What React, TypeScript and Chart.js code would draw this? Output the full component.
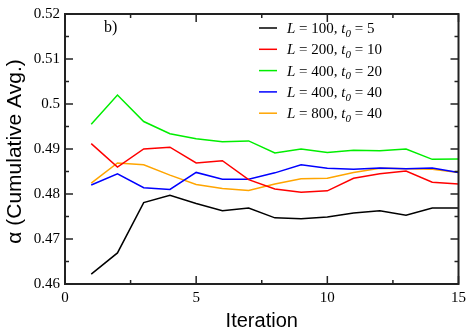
import React, { useEffect, useRef } from "react";
import { Chart, registerables } from "chart.js";

Chart.register(...registerables);

const iterations = [1, 2, 3, 4, 5, 6, 7, 8, 9, 10, 11, 12, 13, 14, 15];
const black100 = [0.4622, 0.4669, 0.4781, 0.4797, 0.4779, 0.4763, 0.4769, 0.4747, 0.4745, 0.4749, 0.4758, 0.4763, 0.4753, 0.4769, 0.4769];
const red200 = [0.4912, 0.4860, 0.4900, 0.4904, 0.4869, 0.4874, 0.4832, 0.4811, 0.4804, 0.4807, 0.4835, 0.4845, 0.4851, 0.4826, 0.4822];
const green400 = [0.4955, 0.5020, 0.4961, 0.4934, 0.4923, 0.4916, 0.4918, 0.4891, 0.4900, 0.4892, 0.4897, 0.4896, 0.4900, 0.4877, 0.4878];
const blue400 = [0.4820, 0.4845, 0.4814, 0.4810, 0.4848, 0.4833, 0.4833, 0.4847, 0.4865, 0.4857, 0.4855, 0.4858, 0.4856, 0.4858, 0.4848];
const orange800 = [0.4824, 0.4869, 0.4865, 0.4842, 0.4821, 0.4812, 0.4808, 0.4822, 0.4834, 0.4835, 0.4848, 0.4857, 0.4856, 0.4855, 0.4848];

const seriesL = ["100", "200", "400", "400", "800"];
const seriesT0 = ["5", "10", "20", "40", "40"];
const seriesColors = ["#000000", "#ff0000", "#00ee00", "#0000ff", "#ffa500"];
const seriesValues = [black100, red200, green400, blue400, orange800];

const xTicksMajor = [0, 5, 10, 15];
const xTicksMinor = [2.5, 7.5, 12.5];
const yTicksMajor = [0.46, 0.47, 0.48, 0.49, 0.5, 0.51, 0.52];
const yTicksMinor = [0.465, 0.475, 0.485, 0.495, 0.505, 0.515];

const xTitle = "Iteration";
const yTitle = "α (Cumulative Avg.)";

const SERIF = "'Liberation Serif', 'Times New Roman', serif";
const SANS = "'Liberation Sans', Arial, sans-serif";

const framePlugin = {
  id: "frameAndLegend",
  afterDraw(chart: any) {
    const ctx = chart.ctx;
    const { left, right, top, bottom } = chart.chartArea;
    const xs = chart.scales.x;
    const ys = chart.scales.y;
    ctx.save();
    ctx.strokeStyle = "#222";
    ctx.lineWidth = 2;
    ctx.strokeRect(left, top, right - left, bottom - top);
    ctx.lineWidth = 1.5;
    const tick = (x1: number, y1: number, x2: number, y2: number) => {
      ctx.beginPath();
      ctx.moveTo(x1, y1);
      ctx.lineTo(x2, y2);
      ctx.stroke();
    };
    xTicksMajor.forEach((v) => {
      const p = xs.getPixelForValue(v);
      tick(p, bottom, p, bottom - 8);
      tick(p, top, p, top + 8);
    });
    xTicksMinor.forEach((v) => {
      const p = xs.getPixelForValue(v);
      tick(p, bottom, p, bottom - 4);
      tick(p, top, p, top + 4);
    });
    yTicksMajor.forEach((v) => {
      const p = ys.getPixelForValue(v);
      tick(left, p, left + 8, p);
      tick(right, p, right - 8, p);
    });
    yTicksMinor.forEach((v) => {
      const p = ys.getPixelForValue(v);
      tick(left, p, left + 4, p);
      tick(right, p, right - 4, p);
    });

    // axis titles
    ctx.fillStyle = "#000";
    ctx.font = `20px ${SANS}`;
    ctx.textAlign = "center";
    ctx.textBaseline = "alphabetic";
    ctx.fillText(xTitle, (left + right) / 2, 327);
    ctx.save();
    ctx.translate(20.5, 151.5);
    ctx.rotate(-Math.PI / 2);
    ctx.font = `21px ${SANS}`;
    ctx.fillText(yTitle, 0, 0);
    ctx.restore();

    // panel label
    ctx.fillStyle = "#000";
    ctx.font = `16px ${SERIF}`;
    ctx.textBaseline = "alphabetic";
    ctx.textAlign = "left";
    ctx.fillText("b)", 104, 32);

    // legend
    const lineX1 = 259;
    const lineX2 = 277;
    const textX = 287;
    const rowY0 = 28;
    const rowDy = 21.3;
    seriesL.forEach((L, i) => {
      const y = rowY0 + i * rowDy;
      ctx.strokeStyle = seriesColors[i];
      ctx.lineWidth = 1.5;
      tick(lineX1, y, lineX2, y);
      ctx.fillStyle = "#000";
      ctx.textBaseline = "middle";
      let x = textX;
      const base = y + 1;
      ctx.font = `italic 15px ${SERIF}`;
      ctx.fillText("L", x, base);
      x += ctx.measureText("L").width;
      ctx.font = `15px ${SERIF}`;
      const mid = ` = ${L}, `;
      ctx.fillText(mid, x, base);
      x += ctx.measureText(mid).width;
      ctx.font = `italic 15px ${SERIF}`;
      ctx.fillText("t", x, base);
      x += ctx.measureText("t").width;
      ctx.font = `italic 11px ${SERIF}`;
      ctx.fillText("0", x, base + 5);
      x += ctx.measureText("0").width;
      ctx.font = `15px ${SERIF}`;
      ctx.fillText(` = ${seriesT0[i]}`, x, base);
    });
    ctx.restore();
  },
};

export default function App() {
  const ref = useRef<HTMLCanvasElement | null>(null);
  useEffect(() => {
    if (!ref.current) return;
    const chart = new Chart(ref.current, {
      type: "line",
      data: {
        datasets: seriesValues.map((vals, i) => ({
          label: `L = ${seriesL[i]}, t0 = ${seriesT0[i]}`,
          data: vals.map((v, j) => ({ x: iterations[j], y: v })),
          borderColor: seriesColors[i],
          backgroundColor: seriesColors[i],
          borderWidth: 1.5,
          pointRadius: 0,
          tension: 0,
          fill: false,
        })),
      },
      options: {
        animation: false,
        responsive: false,
        devicePixelRatio: 1,
        layout: { padding: { left: 0, top: 6.5, right: 8.5, bottom: 0 } },
        plugins: { legend: { display: false }, tooltip: { enabled: false } },
        scales: {
          x: {
            type: "linear",
            min: 0,
            max: 15,
            grid: { display: false, drawTicks: false },
            border: { display: false },
            ticks: {
              stepSize: 5,
              padding: 5,
              color: "#000",
              font: { family: SERIF, size: 15 },
              callback: (v: any) => String(v),
              maxRotation: 0,
            },
            title: { display: false },
            afterFit: (s: any) => {
              s.height = 46;
            },
          },
          y: {
            type: "linear",
            min: 0.46,
            max: 0.52,
            grid: { display: false, drawTicks: false },
            border: { display: false },
            ticks: {
              stepSize: 0.01,
              padding: 5,
              color: "#000",
              font: { family: SERIF, size: 15 },
              callback: (v: any) => String(Math.round(Number(v) * 100) / 100),
            },
            title: { display: false },
            afterFit: (s: any) => {
              s.width = 65;
            },
          },
        },
      },
      plugins: [framePlugin],
    } as any);
    return () => chart.destroy();
  }, []);
  return (
    <div style={{ position: "fixed", left: 0, top: 0, width: 471, height: 330, background: "#fff" }}>
      <canvas ref={ref} width={471} height={330} />
    </div>
  );
}
